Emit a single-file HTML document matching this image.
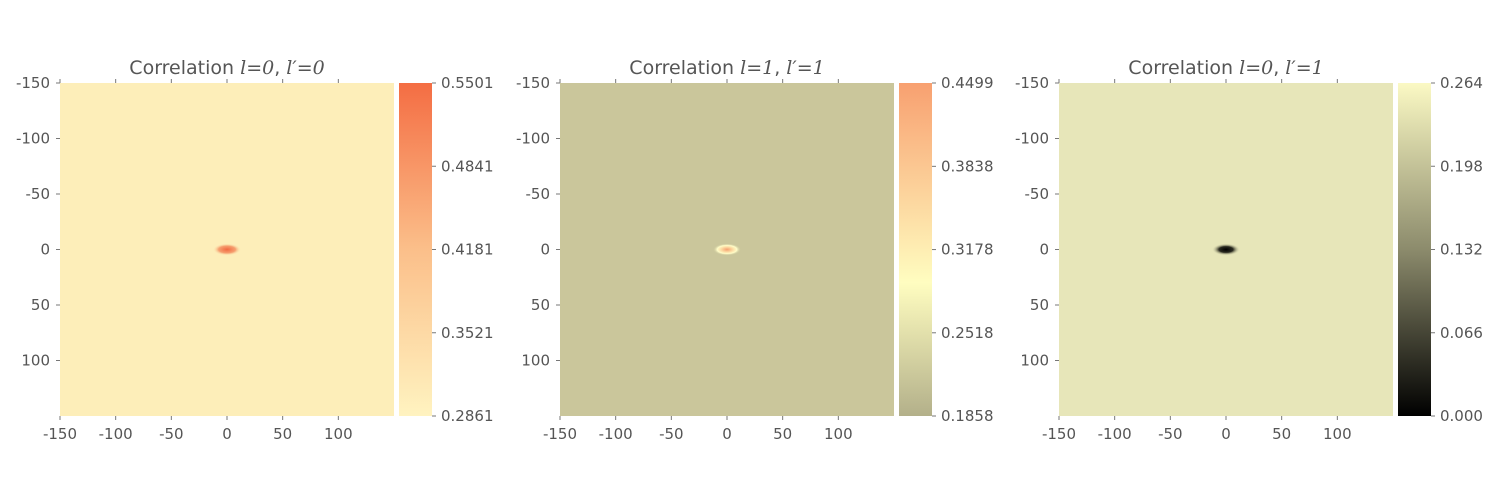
<!DOCTYPE html>
<html><head><meta charset="utf-8"><style>
body{margin:0;background:#fff;}
svg{display:block;font-family:"DejaVu Sans","Liberation Sans",sans-serif;}
.t{fill:#555;font-size:15px;}
.ti{fill:#555;font-size:19px;}
.m{font-family:"DejaVu Serif","Liberation Serif",serif;font-style:italic;}
</style></head><body>
<svg id="fig" width="1500" height="500" viewBox="0 0 1500 500">
<defs>
<linearGradient id="g0" x1="0" y1="1" x2="0" y2="0"><stop offset="0" stop-color="#fff3c0"/><stop offset="0.5" stop-color="#fbbf8a"/><stop offset="1" stop-color="#f46d43"/></linearGradient>
<linearGradient id="g1" x1="0" y1="1" x2="0" y2="0"><stop offset="0" stop-color="#b3b08a"/><stop offset="0.4" stop-color="#fffdc0"/><stop offset="1" stop-color="#f8a070"/></linearGradient>
<linearGradient id="g2" x1="0" y1="1" x2="0" y2="0"><stop offset="0" stop-color="#000000"/><stop offset="0.5" stop-color="#8c8b6c"/><stop offset="1" stop-color="#fbf9c4"/></linearGradient>
<radialGradient id="p0"><stop offset="0" stop-color="#f26a42"/><stop offset="0.6" stop-color="#f6a070"/><stop offset="1" stop-color="#fcecb8" stop-opacity="0"/></radialGradient>
<radialGradient id="p1"><stop offset="0" stop-color="#f6a070"/><stop offset="0.45" stop-color="#fde0a8"/><stop offset="0.7" stop-color="#fffdc8"/><stop offset="1" stop-color="#cbc79a" stop-opacity="0"/></radialGradient>
<radialGradient id="p2"><stop offset="0" stop-color="#000"/><stop offset="0.5" stop-color="#2a2a20"/><stop offset="1" stop-color="#e6e5b8" stop-opacity="0"/></radialGradient>
</defs>
</svg>
<script>
const titleL=[["0","0"],["1","1"],["0","1"]];
const bgColors=["#fdeeb9","#cac69b","#e7e6b9"];
const axisTicks=[-150,-100,-50,0,50,100];
const cbTicks=[["0.5501","0.4841","0.4181","0.3521","0.2861"],["0.4499","0.3838","0.3178","0.2518","0.1858"],["0.264","0.198","0.132","0.066","0.000"]];
const cbMin=[0.2861,0.1858,0];
const cbMax=[0.5501,0.4499,0.264];
const peakX=[0,0,0];
const peakY=[0,0,0];
const panelX=[60,560,1059];
const svg=document.getElementById('fig');
const NS='http://www.w3.org/2000/svg';
function mk(tag,attrs,parent){const e=document.createElementNS(NS,tag);for(const k in attrs)e.setAttribute(k,attrs[k]);(parent||svg).appendChild(e);return e;}
const top0=83,H=333,W=334;
for(let p=0;p<3;p++){
  const x0=panelX[p];
  const sx=v=>x0+(v+150)/300*W, sy=v=>top0+(v+150)/300*H;
  const g=mk('g',{});
  
  
  const r=mk('rect',{x:x0,y:top0,width:W,height:H,fill:bgColors[p]},g);
  
  
  const e=mk('ellipse',{cx:sx(peakX[p]),cy:sy(peakY[p]),rx:14,ry:6,fill:'url(#p'+p+')'},g);
  
  
  const t=mk('text',{x:x0+W/2,y:74,'text-anchor':'middle',class:'ti'},g);
  t.innerHTML='Correlation <tspan class="m">l</tspan>=<tspan class="m">'+titleL[p][0]+'</tspan>, <tspan class="m">l′</tspan>=<tspan class="m">'+titleL[p][1]+'</tspan>';
  
  
  axisTicks.forEach(v=>{
    const X=sx(v),Y=sy(v);
    mk('line',{x1:X,y1:top0-4,x2:X,y2:top0,stroke:'#777'},g);
    mk('line',{x1:X,y1:top0+H,x2:X,y2:top0+H+4,stroke:'#777'},g);
    mk('line',{x1:x0-4,y1:Y,x2:x0,y2:Y,stroke:'#777'},g);
    const lx=mk('text',{x:X,y:top0+H+23,'text-anchor':'middle',class:'t'},g);lx.textContent=v;
    
    
    const ly=mk('text',{x:x0-10,y:Y+5,'text-anchor':'end',class:'t'},g);ly.textContent=v;
    
    
  });
  const cx=x0+339;
  const cb=mk('rect',{x:cx,y:top0,width:33,height:H,fill:'url(#g'+p+')'},g);
  
  
  cbTicks[p].forEach(s=>{
    const v=parseFloat(s);
    const Y=top0+H-(v-cbMin[p])/(cbMax[p]-cbMin[p])*H;
    mk('line',{x1:cx+33,y1:Y,x2:cx+37,y2:Y,stroke:'#777'},g);
    const l=mk('text',{x:cx+42,y:Y+5,class:'t'},g);l.textContent=s;
    
    
  });
}
</script>
</body></html>
